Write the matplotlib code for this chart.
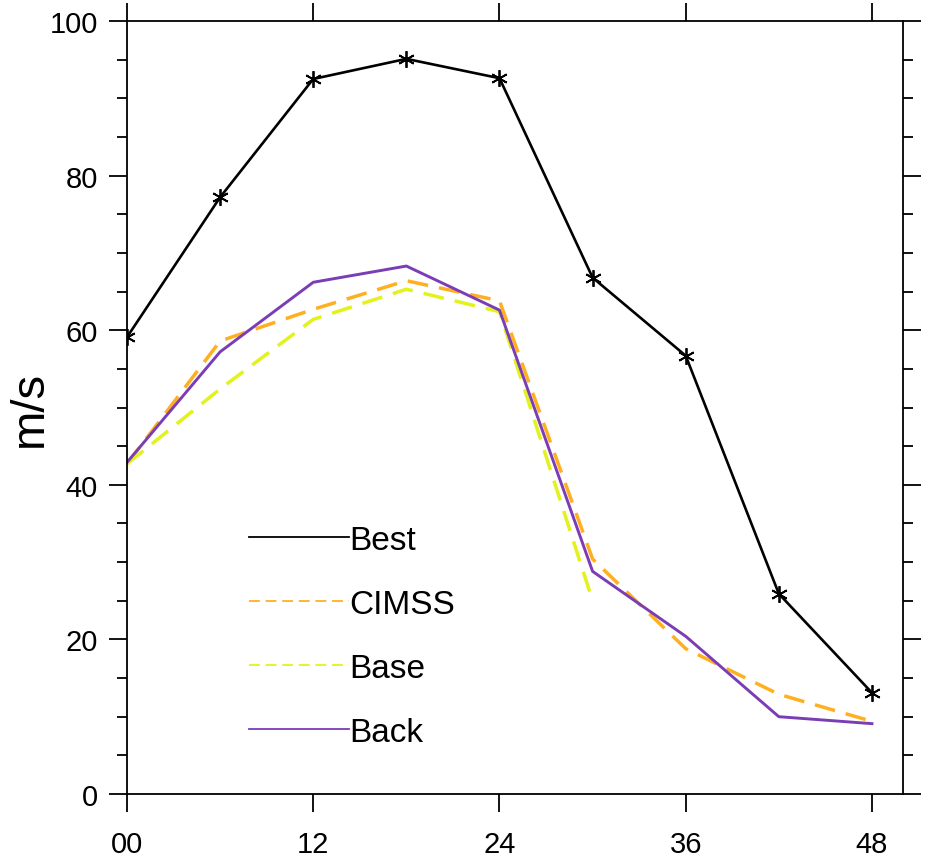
import numpy as np
import matplotlib.pyplot as plt
from matplotlib.ticker import MultipleLocator

plt.rcParams['font.family'] = ['Liberation Sans', 'DejaVu Sans']

hours = [0, 6, 12, 18, 24, 30, 36, 42, 48]
best = [59.1, 77.2, 92.5, 95.1, 92.6, 66.8, 56.7, 25.9, 13.1]
cimss = [42.7, 58.6, 62.7, 66.4, 63.8, 30.4, 18.8, 12.9, 9.4]
base_hours = [0, 6, 12, 18, 24, 30]
base = [42.7, 52.4, 61.4, 65.3, 62.4, 25.0]
back = [42.9, 57.2, 66.2, 68.3, 62.6, 28.8, 20.4, 10.0, 9.1]
xticks = [0, 12, 24, 36, 48]
xticklabels = ['00', '12', '24', '36', '48']

fig = plt.figure(figsize=(9.3, 8.62), dpi=100)
ax = fig.add_axes([127 / 930, 1 - 795 / 862, 776 / 930, 773 / 862])

ax.plot(hours, best, color='black', lw=1.9, marker=(6, 2, 0), ms=12, mew=1.3, label='Best')
ax.plot(hours, cimss, color='#FFB020', lw=2.5, dashes=(6, 3.2), label='CIMSS')
ax.plot(base_hours, base, color='#E2F21C', lw=2.5, dashes=(6, 3.2), label='Base')
ax.plot(hours, back, color='#7B3DB5', lw=2.1, label='Back')

ax.set_xlim(0, 50)
ax.set_ylim(0, 100)
ax.set_xticks(xticks)
ax.set_xticklabels(xticklabels)
ax.yaxis.set_major_locator(MultipleLocator(20))
ax.yaxis.set_minor_locator(MultipleLocator(5))
ax.tick_params(axis='both', which='major', direction='out', length=13, width=1.3,
               labelsize=21, top=True, right=True, pad=8)
ax.tick_params(axis='y', which='minor', direction='out', length=7, width=1.3, right=True)
ax.tick_params(axis='x', which='major', pad=13)
for s in ax.spines.values():
    s.set_linewidth(1.3)

ax.set_ylabel('m/s', fontsize=34)
ax.yaxis.set_label_coords(-0.097, 0.5)

leg_handles, leg_labels = ax.get_legend_handles_labels()
leg = ax.legend(leg_handles, leg_labels, loc='upper left', bbox_to_anchor=(0.157, 0.348),
                frameon=False, fontsize=24, handlelength=3.0, handletextpad=0.0,
                labelspacing=0.99, borderaxespad=0, borderpad=0)
for h in leg.get_lines():
    h.set_marker('')
    h.set_linewidth(1.3)

fig.savefig('out.png', dpi=100)
